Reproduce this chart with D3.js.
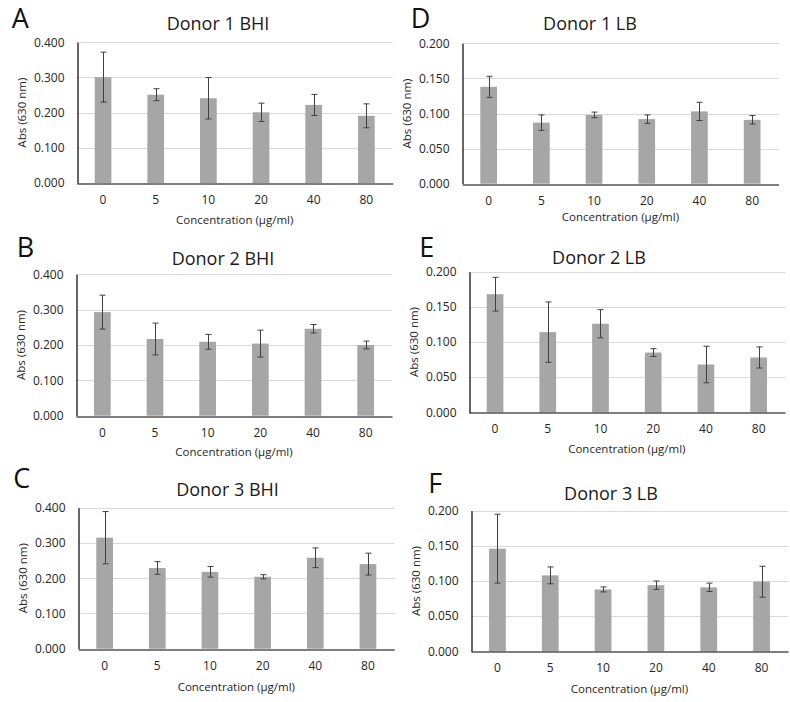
<!DOCTYPE html>
<html>
<head>
<meta charset="utf-8">
<script src="https://cdn.jsdelivr.net/npm/d3@7"></script>
<style>
  html, body { margin: 0; padding: 0; background: #fff; }
  svg { display: block; font-family: "Open Sans", "DejaVu Sans", sans-serif; }
</style>
</head>
<body>
<svg id="chart" width="790" height="702"></svg>
<script>
// ---- Data ----
const concentrations = ["0", "5", "10", "20", "40", "80"];

const donor1BHI = [0.301, 0.251, 0.241, 0.201, 0.222, 0.191];
const donor1BHIErr = [0.071, 0.017, 0.059, 0.026, 0.030, 0.034];
const donor2BHI = [0.293, 0.217, 0.209, 0.204, 0.246, 0.200];
const donor2BHIErr = [0.048, 0.045, 0.021, 0.038, 0.012, 0.011];
const donor3BHI = [0.315, 0.229, 0.218, 0.204, 0.258, 0.240];
const donor3BHIErr = [0.074, 0.018, 0.015, 0.006, 0.028, 0.031];

const donor1LB = [0.138, 0.087, 0.098, 0.092, 0.103, 0.091];
const donor1LBErr = [0.015, 0.011, 0.004, 0.006, 0.013, 0.006];
const donor2LB = [0.168, 0.114, 0.126, 0.085, 0.068, 0.078];
const donor2LBErr = [0.024, 0.043, 0.020, 0.0055, 0.026, 0.015];
const donor3LB = [0.146, 0.108, 0.088, 0.094, 0.091, 0.099];
const donor3LBErr = [0.049, 0.012, 0.0035, 0.006, 0.006, 0.022];

const bhiTicks = [0, 0.1, 0.2, 0.3, 0.4];
const lbTicks = [0, 0.05, 0.1, 0.15, 0.2];

const panelLetters = ["A", "B", "C", "D", "E", "F"];
const panelTitles = ["Donor 1 BHI", "Donor 2 BHI", "Donor 3 BHI", "Donor 1 LB", "Donor 2 LB", "Donor 3 LB"];
const panelValues = [donor1BHI, donor2BHI, donor3BHI, donor1LB, donor2LB, donor3LB];
const panelErrors = [donor1BHIErr, donor2BHIErr, donor3BHIErr, donor1LBErr, donor2LBErr, donor3LBErr];
const panelTicks = [bhiTicks, bhiTicks, bhiTicks, lbTicks, lbTicks, lbTicks];
const yAxisTitle = "Abs (630 nm)";
const xAxisTitle = "Concentration (µg/ml)";

// ---- Layout (positions only) ----
const layout = [
  { x0: 76.7, x1: 392.7, top: 42.3, base: 183.0, tx: 218, ty: 30, lx: 11.7, ly: 27.5, xty: 37 },
  { x0: 76.0, x1: 392.0, top: 274.3, base: 415.7, tx: 223, ty: 265, lx: 16.7, ly: 256.7, xty: 36 },
  { x0: 78.3, x1: 394.3, top: 507.7, base: 648.7, tx: 227.5, ty: 495.7, lx: 13.3, ly: 488.3, xty: 38 },
  { x0: 462.3, x1: 778.5, top: 43.3, base: 183.7, tx: 590, ty: 30, lx: 410.7, ly: 27.5, xty: 33 },
  { x0: 468.7, x1: 785.0, top: 271.7, base: 412.3, tx: 599, ty: 264, lx: 419.3, ly: 256.7, xty: 36.7 },
  { x0: 471.0, x1: 788.0, top: 510.7, base: 651.3, tx: 611, ty: 500, lx: 428.3, ly: 493.3, xty: 37.7 }
];

const svg = d3.select("#chart");
const fmt = d3.format(".3f");

panelValues.forEach((vals, i) => {
  const L = layout[i];
  const ticks = panelTicks[i];
  const errs = panelErrors[i];
  const g = svg.append("g");

  const x = d3.scaleBand().domain(concentrations).range([L.x0, L.x1])
    .paddingInner(0.683).paddingOuter(0.3415);
  const y = d3.scaleLinear().domain([0, d3.max(ticks)]).range([L.base, L.top]);

  // gridlines
  g.append("g").selectAll("line").data(ticks.filter(t => t > 0)).join("line")
    .attr("x1", L.x0).attr("x2", L.x1)
    .attr("y1", d => Math.round(y(d)) + 0.5).attr("y2", d => Math.round(y(d)) + 0.5)
    .attr("stroke", "#d9d9d9").attr("stroke-width", 1);

  // bars
  g.append("g").selectAll("rect").data(vals).join("rect")
    .attr("x", (d, j) => x(concentrations[j]))
    .attr("width", x.bandwidth())
    .attr("y", d => y(d))
    .attr("height", d => y(0) - y(d))
    .attr("fill", "#a6a6a6");

  // error bars
  const eb = g.append("g").attr("stroke", "#404040").attr("stroke-width", 1);
  vals.forEach((v, j) => {
    const cx = Math.round(x(concentrations[j]) + x.bandwidth() / 2) + 0.5;
    const hi = y(v + errs[j]), lo = y(v - errs[j]);
    eb.append("line").attr("x1", cx).attr("x2", cx).attr("y1", hi).attr("y2", lo);
    eb.append("line").attr("x1", cx - 3).attr("x2", cx + 3).attr("y1", hi).attr("y2", hi);
    eb.append("line").attr("x1", cx - 3).attr("x2", cx + 3).attr("y1", lo).attr("y2", lo);
  });

  // y axis
  const yAxis = d3.axisLeft(y).tickValues(ticks).tickFormat(fmt).tickSize(0).tickPadding(13);
  const ya = g.append("g").attr("transform", `translate(${Math.round(L.x0) + 0.5},0)`).call(yAxis);
  ya.select(".domain").attr("stroke", "#000").attr("stroke-width", 1.2);
  ya.selectAll("text").attr("font-size", 12).attr("fill", "#262626")
    .attr("font-family", "'Open Sans', sans-serif");

  // x axis
  const xAxis = d3.axisBottom(x).tickSize(0).tickPadding(12);
  const xa = g.append("g").attr("transform", `translate(0,${Math.round(L.base) + 0.5})`).call(xAxis);
  xa.select(".domain").attr("stroke", "#000").attr("stroke-width", 1.2);
  xa.selectAll("text").attr("font-size", 12).attr("fill", "#262626")
    .attr("font-family", "'Open Sans', sans-serif");

  // titles
  g.append("text").attr("x", L.tx).attr("y", L.ty).attr("text-anchor", "middle")
    .attr("font-size", 18).attr("fill", "#1a1a1a").text(panelTitles[i]);
  g.append("text").attr("x", L.lx).attr("y", L.ly)
    .attr("font-size", 27).attr("fill", "#111").text(panelLetters[i]);

  // axis titles
  g.append("text")
    .attr("transform", `translate(${L.x0 - 51},${(L.top + L.base) / 2}) rotate(-90)`)
    .attr("text-anchor", "middle").attr("font-size", 11.5).attr("fill", "#262626")
    .text(yAxisTitle);
  g.append("text").attr("x", (L.x0 + L.x1) / 2).attr("y", L.base + L.xty + 4)
    .attr("text-anchor", "middle").attr("font-size", 11.5).attr("fill", "#262626")
    .text(xAxisTitle);
});
</script>
</body>
</html>
